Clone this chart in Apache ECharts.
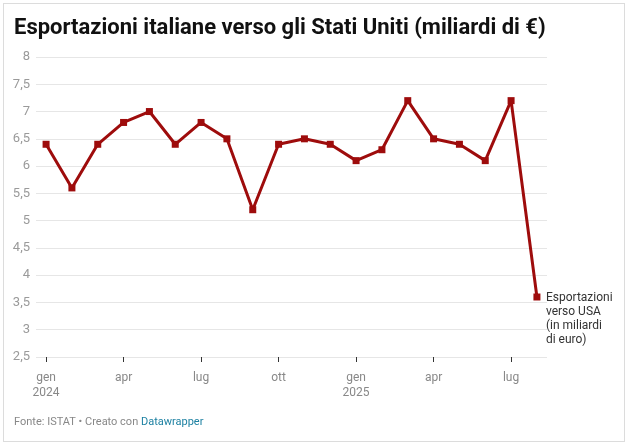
<!DOCTYPE html>
<html>
<head>
<meta charset="utf-8">
<script src="https://cdn.jsdelivr.net/npm/echarts@6/dist/echarts.min.js"></script>
<style>
  html, body { margin: 0; padding: 0; background: #fff; }
  #frame { position: absolute; left: 3px; top: 3px; width: 620px; height: 437px; border: 1px solid #dcdcdc; }
  #chart { position: absolute; left: 0; top: 0; width: 628px; height: 444px; }
</style>
</head>
<body>
<div id="frame"></div>
<div id="chart"></div>
<script>
// mesi da gen 2024 ad ago 2025
const months = ['gen', 'feb', 'mar', 'apr', 'mag', 'giu', 'lug', 'ago', 'set', 'ott', 'nov', 'dic',
  'gen', 'feb', 'mar', 'apr', 'mag', 'giu', 'lug', 'ago']
const years = ['2024', '', '', '', '', '', '', '', '', '', '', '',
  '2025', '', '', '', '', '', '', '']
// esportazioni verso USA, miliardi di euro
const exportsUsa = [6.4, 5.6, 6.4, 6.8, 7.0, 6.4, 6.8, 6.5, 5.2, 6.4, 6.5, 6.4,
  6.1, 6.3, 7.2, 6.5, 6.4, 6.1, 7.2, 3.6]
const tickIdx = [0, 3, 6, 9, 12, 15, 18]
const yTicks = [2.5, 3, 3.5, 4, 4.5, 5, 5.5, 6, 6.5, 7, 7.5, 8]

const chart = echarts.init(document.getElementById('chart'))
const fmt = v => String(v).replace('.', ',')

chart.setOption({
  animation: false,
  textStyle: { fontFamily: 'Roboto' },
  title: {
    text: 'Esportazioni italiane verso gli Stati Uniti (miliardi di €)',
    left: 14,
    top: 17,
    padding: 0,
    textStyle: { fontFamily: 'Roboto', fontWeight: 'bold', fontSize: 22, color: '#111' }
  },
  grid: { left: 36, right: 81, top: 57, bottom: 87 },
  xAxis: {
    type: 'value',
    min: -0.39,
    max: 19.39,
    axisLine: { show: false },
    splitLine: { show: false },
    axisTick: { show: true, customValues: tickIdx, length: 5, lineStyle: { color: '#333', width: 1 } },
    axisLabel: {
      customValues: tickIdx,
      margin: 13,
      color: '#888',
      fontSize: 12,
      lineHeight: 15,
      formatter: v => years[v] ? months[v] + '\n' + years[v] : months[v]
    }
  },
  yAxis: {
    type: 'value',
    min: yTicks[0],
    max: yTicks[yTicks.length - 1],
    interval: 0.5,
    axisLine: { show: false },
    axisTick: { show: false },
    splitLine: { lineStyle: { color: '#e6e6e6', width: 1 } },
    axisLabel: { margin: 6, color: '#9a9a9a', fontSize: 13, formatter: fmt }
  },
  series: [{
    name: 'Esportazioni verso USA (in miliardi di euro)',
    type: 'line',
    data: exportsUsa.map((v, i) => [i, v]),
    symbol: 'rect',
    symbolSize: 7,
    lineStyle: { color: '#9e0c0c', width: 3 },
    itemStyle: { color: '#9e0c0c' },
    endLabel: {
      show: true,
      formatter: 'Esportazioni\nverso USA\n(in miliardi\ndi euro)',
      color: '#333',
      fontSize: 12,
      lineHeight: 14,
      verticalAlign: 'top',
      distance: 9,
      offset: [0, -6]
    }
  }],
  graphic: [{
    type: 'text',
    left: 14,
    top: 417,
    style: {
      text: '{g|Fonte: ISTAT • Creato con }{b|Datawrapper}',
      rich: {
        g: { fill: '#888', fontSize: 11, fontFamily: 'Roboto' },
        b: { fill: '#1d81a2', fontSize: 11, fontFamily: 'Roboto' }
      }
    }
  }]
})
</script>
</body>
</html>
